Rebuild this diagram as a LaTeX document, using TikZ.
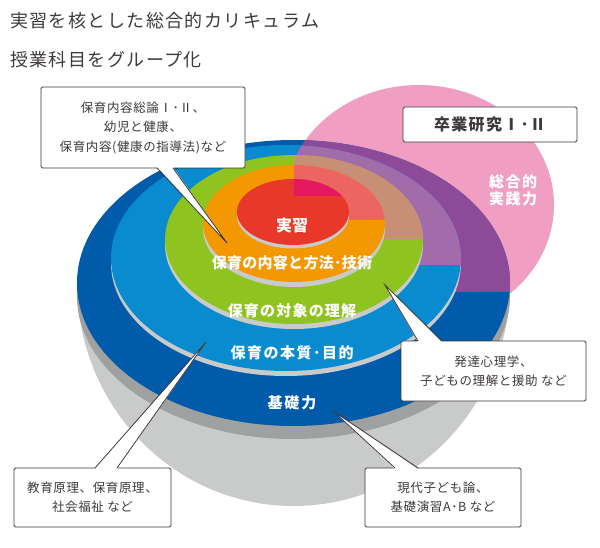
\documentclass[tikz,border=0pt]{standalone}
\usepackage{fontspec}
\setmainfont{Noto Sans CJK JP}
\definecolor{txtgray}{HTML}{3E3A39}
\definecolor{pinkc}{HTML}{F09FC3}
\definecolor{bluedk}{HTML}{005BAB}
\definecolor{bluelt}{HTML}{0A8BD0}
\definecolor{greenc}{HTML}{8FC31F}
\definecolor{orangec}{HTML}{F39800}
\definecolor{redc}{HTML}{E8382A}
\definecolor{purpledk}{HTML}{8C4A98}
\definecolor{purplelt}{HTML}{A26BAA}
\definecolor{tanc}{HTML}{C68F76}
\definecolor{salmonc}{HTML}{EC6560}
\definecolor{magentac}{HTML}{E4195F}
\definecolor{graylt}{HTML}{C9CACA}
\definecolor{graydk}{HTML}{9FA0A0}
\begin{document}
\begin{tikzpicture}[x=1pt,y=-1pt,inner sep=0pt,outer sep=0pt,
txtbox/.style={draw=txtgray,fill=white,rectangle,rounded corners=1.5pt,line width=0.8pt,align=center,text=txtgray,
  font=\fontsize{12.5}{19.5}\selectfont\addfontfeatures{LetterSpace=5}},
titletext/.style={anchor=west,text=txtgray,font=\fontsize{18}{18}\selectfont\addfontfeatures{LetterSpace=8}},
ringlabel/.style={text=white,font=\bfseries\fontsize{15}{17}\selectfont\addfontfeatures{LetterSpace=8}},
tailline/.style={draw=txtgray,line width=0.8pt,line join=miter}]
\useasboundingbox (0,0) rectangle (600,548);
\draw (10,21) node[titletext] (title1) {実習を核とした総合的カリキュラム};
\draw (10,60) node[titletext] (title2) {授業科目をグループ化};
% pink circle and base
\fill[pinkc] (419,205) ellipse [x radius=135,y radius=120];
\fill[graylt] (77,283) arc [start angle=180,end angle=0,x radius=216.5,y radius=223] -- cycle;
\fill[graydk] (293.5,296) ellipse [x radius=216.5,y radius=143];
% discs
\fill[bluedk] (293.5,283) ellipse [x radius=216.5,y radius=143];
\begin{scope}
\clip (419,205) ellipse [x radius=135,y radius=120];
\clip (294,0) rectangle (600,292);
\fill[purpledk] (293.5,283) ellipse [x radius=216.5,y radius=143];
\end{scope}
\fill[graylt] (286,263) ellipse [x radius=175,y radius=113];
\fill[bluelt] (286,258) ellipse [x radius=175,y radius=113];
\begin{scope}
\clip (419,205) ellipse [x radius=135,y radius=120];
\clip (294,0) rectangle (600,265);
\fill[purplelt] (286,258) ellipse [x radius=175,y radius=113];
\end{scope}
\fill[graylt] (294,244.5) ellipse [x radius=129,y radius=84.5];
\fill[greenc] (294,239.5) ellipse [x radius=129,y radius=84.5];
\begin{scope}
\clip (419,205) ellipse [x radius=135,y radius=120];
\clip (294,0) rectangle (600,239);
\fill[tanc] (294,239.5) ellipse [x radius=129,y radius=84.5];
\end{scope}
\fill[graylt] (294,228.5) ellipse [x radius=91,y radius=58.5];
\fill[orangec] (294,223.5) ellipse [x radius=91,y radius=58.5];
\begin{scope}
\clip (419,205) ellipse [x radius=135,y radius=120];
\clip (294,0) rectangle (600,220);
\fill[salmonc] (294,223.5) ellipse [x radius=91,y radius=58.5];
\end{scope}
\fill[graylt] (293,215.5) ellipse [x radius=56,y radius=33];
\fill[redc] (293,212) ellipse [x radius=56,y radius=33];
\begin{scope}
\clip (419,205) ellipse [x radius=135,y radius=120];
\clip (294,0) rectangle (600,196);
\fill[magentac] (293,212) ellipse [x radius=56,y radius=33];
\end{scope}
% ring labels
\draw (292,225) node[ringlabel,font=\bfseries\fontsize{16}{16}\selectfont] (practice) {実習};
\draw (292,263) node[ringlabel,font=\bfseries\fontsize{15}{16}\selectfont\addfontfeatures{LetterSpace=2}] (method) {保育の内容と方法･技術};
\draw (292,311) node[ringlabel] (subject) {保育の対象の理解};
\draw (292,353) node[ringlabel,font=\bfseries\fontsize{15}{17}\selectfont\addfontfeatures{LetterSpace=10}] (essence) {保育の本質･目的};
\draw (292,403) node[ringlabel,font=\bfseries\fontsize{15}{17}\selectfont\addfontfeatures{LetterSpace=12}] (basic) {基礎力};
\draw (513,190) node[ringlabel,align=center,font=\bfseries\fontsize{15}{17}\selectfont\addfontfeatures{LetterSpace=10}] (applied) {総合的\\実践力};
% boxes
\draw (490,124.5) node[txtbox,minimum width=174pt,minimum height=35pt,font=\bfseries\fontsize{16}{16}\selectfont\addfontfeatures{LetterSpace=8}] (thesis) {卒業研究Ⅰ･Ⅱ};
\draw (143,127.5) node[txtbox,minimum width=204pt,minimum height=81pt] (content) {保育内容総論Ⅰ･Ⅱ、\\幼児と健康、\\保育内容(健康の指導法)など};
\draw (493.5,371) node[txtbox,minimum width=185pt,minimum height=60pt] (develop) {発達心理学、\\子どもの理解と援助 など};
\draw (443,497.5) node[txtbox,minimum width=156pt,minimum height=59pt] (modern) {現代子ども論、\\基礎演習A･B など};
\draw (92.5,497.5) node[txtbox,minimum width=157pt,minimum height=59pt] (principle) {教育原理、保育原理、\\社会福祉 など};
% callout tails
\coordinate (tip1) at (227,243);
\coordinate (tip2) at (385,285);
\coordinate (tip3) at (333,411);
\coordinate (tip4) at (206,342);
\fill[white] ([xshift=14pt,yshift=1.2pt]content.south) -- (tip1) -- ([xshift=30pt,yshift=1.2pt]content.south) -- cycle;
\draw[tailline] ([xshift=14pt]content.south) -- (tip1) -- ([xshift=30pt]content.south);
\fill[white] ([xshift=-75.5pt,yshift=-1.2pt]develop.north) -- (tip2) -- ([xshift=-51.5pt,yshift=-1.2pt]develop.north) -- cycle;
\draw[tailline] ([xshift=-75.5pt]develop.north) -- (tip2) -- ([xshift=-51.5pt]develop.north);
\fill[white] ([xshift=-48pt,yshift=-1.2pt]modern.north) -- (tip3) -- ([xshift=-25pt,yshift=-1.2pt]modern.north) -- cycle;
\draw[tailline] ([xshift=-48pt]modern.north) -- (tip3) -- ([xshift=-25pt]modern.north);
\fill[white] ([xshift=2.5pt,yshift=-1.2pt]principle.north) -- (tip4) -- ([xshift=24.5pt,yshift=-1.2pt]principle.north) -- cycle;
\draw[tailline] ([xshift=2.5pt]principle.north) -- (tip4) -- ([xshift=24.5pt]principle.north);
\end{tikzpicture}
\end{document}
